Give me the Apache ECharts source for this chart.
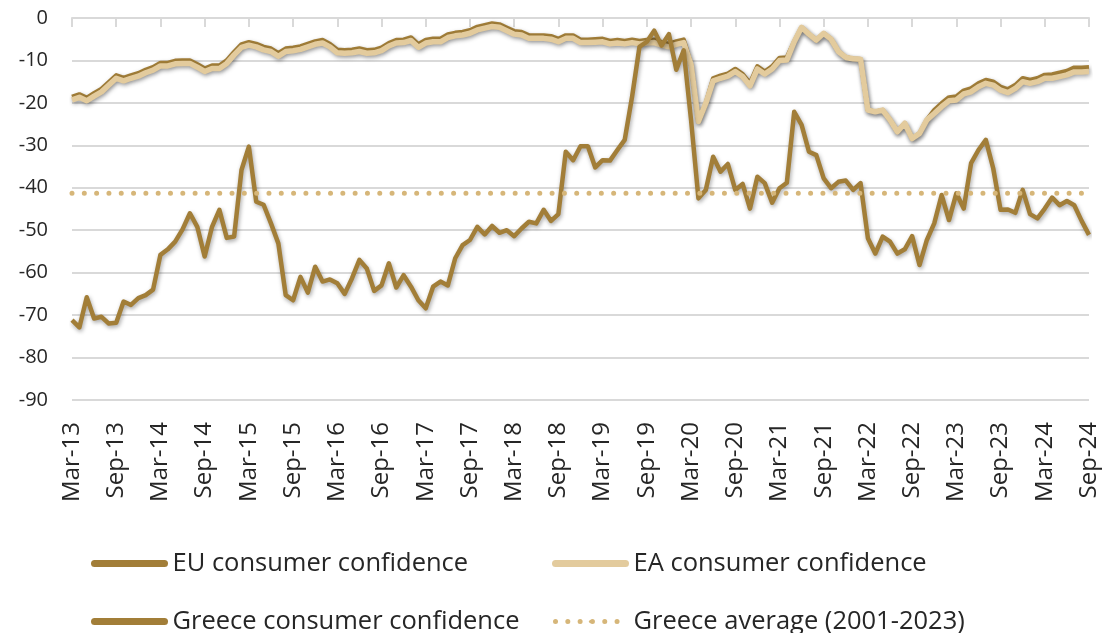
<!DOCTYPE html>
<html>
<head>
<meta charset="utf-8">
<script src="https://cdn.jsdelivr.net/npm/echarts@6/dist/echarts.min.js"></script>
<style>
  html, body { margin: 0; padding: 0; background: #fff; }
  #chart { width: 1105px; height: 633px; }
</style>
</head>
<body>
<div id="chart"></div>
<script>
// months Mar-13 .. Sep-24
const monthNames = ['Jan','Feb','Mar','Apr','May','Jun','Jul','Aug','Sep','Oct','Nov','Dec'];
const categories = [];
for (let y = 2013, m = 2; y < 2024 || (y === 2024 && m <= 8); m++) {
  if (m > 11) { m = 0; y++; }
  if (y === 2024 && m > 8) break;
  categories.push(monthNames[m] + '-' + String(y).slice(2));
}

const yTicks = [0, -10, -20, -30, -40, -50, -60, -70, -80, -90];

const euConfidence = [
  -18.6, -18.0, -18.8, -17.7, -16.7, -15.1, -13.5, -14.1, -13.5, -13.0,
  -12.2, -11.6, -10.6, -10.6, -10.1, -10.0, -10.0, -10.9, -11.9, -11.2,
  -11.2, -10.0, -8.0, -6.2, -5.7, -6.1, -6.8, -7.2, -8.3, -7.2,
  -7.0, -6.7, -6.1, -5.5, -5.2, -6.1, -7.5, -7.6, -7.5, -7.2,
  -7.6, -7.5, -7.0, -5.9, -5.2, -5.1, -4.6, -6.2, -5.2, -4.9,
  -4.9, -3.9, -3.5, -3.3, -2.9, -2.1, -1.7, -1.3, -1.5, -2.3,
  -3.1, -3.3, -4.1, -4.1, -4.1, -4.3, -4.9, -4.1, -4.1, -5.1,
  -5.1, -5.0, -4.9, -5.4, -5.2, -5.4, -5.1, -5.4, -5.2, -5.1,
  -5.7, -6.1, -5.5, -5.1, -11.0, -24.4, -20.1, -14.2, -13.6, -13.1,
  -12.0, -13.2, -15.4, -11.4, -12.6, -11.4, -9.4, -9.3, -5.6, -2.2,
  -3.8, -5.2, -3.6, -5.0, -7.9, -9.3, -9.6, -9.7, -21.7, -22.1,
  -21.7, -24.0, -26.8, -24.8, -28.4, -27.2, -24.0, -21.7, -20.1, -18.7,
  -18.5, -17.1, -16.6, -15.4, -14.6, -15.0, -16.2, -16.8, -15.8, -14.2,
  -14.6, -14.2, -13.4, -13.3, -12.9, -12.5, -11.7, -11.7, -11.6
];

const eaConfidence = [
  -19.3, -18.7, -19.5, -18.4, -17.4, -15.8, -14.2, -14.8, -14.2, -13.7,
  -12.9, -12.3, -11.3, -11.3, -10.8, -10.7, -10.7, -11.6, -12.6, -11.9,
  -11.9, -10.7, -8.7, -6.9, -6.4, -6.8, -7.5, -7.9, -9.0, -7.9,
  -7.7, -7.4, -6.8, -6.2, -5.9, -6.8, -8.2, -8.3, -8.2, -7.9,
  -8.3, -8.2, -7.7, -6.6, -5.9, -5.8, -5.3, -6.9, -5.9, -5.6,
  -5.6, -4.6, -4.2, -4.0, -3.6, -2.8, -2.4, -2.0, -2.2, -3.0,
  -3.8, -4.0, -4.8, -4.8, -4.8, -5.0, -5.6, -4.8, -4.8, -5.8,
  -5.8, -5.7, -5.6, -6.1, -5.9, -6.1, -5.8, -6.1, -5.9, -5.8,
  -6.4, -6.8, -6.2, -5.8, -11.0, -24.4, -20.1, -14.8, -14.2, -13.7,
  -12.6, -13.8, -16.0, -12.0, -13.2, -12.0, -10.0, -9.9, -5.6, -2.2,
  -3.8, -5.2, -3.6, -5.0, -7.9, -9.3, -9.6, -9.7, -21.7, -22.1,
  -21.7, -24.0, -26.8, -24.8, -28.4, -27.2, -24.0, -22.5, -20.9, -19.5,
  -19.3, -17.9, -17.4, -16.2, -15.4, -15.8, -17.0, -17.6, -16.6, -15.0,
  -15.4, -15.0, -14.2, -14.2, -13.8, -13.4, -12.7, -12.7, -12.6
];

const greeceConfidence = [
  -71.2, -72.9, -65.8, -70.8, -70.4, -72.0, -71.8, -66.8, -67.6, -66.0,
  -65.3, -64.0, -55.8, -54.5, -52.7, -49.8, -46.0, -49.2, -56.2, -49.2,
  -45.2, -51.8, -51.5, -35.8, -30.3, -43.3, -44.0, -48.4, -53.1, -65.3,
  -66.5, -61.0, -64.7, -58.6, -62.1, -61.6, -62.5, -65.0, -61.3, -57.0,
  -59.0, -64.3, -63.0, -57.8, -63.5, -60.6, -63.3, -66.5, -68.4, -63.3,
  -62.1, -63.0, -56.6, -53.5, -52.3, -49.2, -51.0, -49.0, -50.6, -50.0,
  -51.4, -49.6, -48.0, -48.4, -45.2, -47.8, -46.2, -31.5, -33.5, -30.2,
  -30.2, -35.2, -33.5, -33.6, -31.1, -28.7, -18.5, -6.8, -5.6, -3.0,
  -6.5, -3.8, -12.2, -7.6, -24.0, -42.5, -40.5, -32.7, -36.2, -34.4,
  -40.5, -39.1, -44.9, -37.4, -38.9, -43.5, -40.1, -38.8, -22.1, -25.2,
  -31.5, -32.3, -37.8, -40.1, -38.6, -38.3, -40.5, -38.9, -51.9, -55.5,
  -51.5, -52.7, -55.5, -54.5, -51.4, -58.2, -52.3, -48.4, -41.7, -47.6,
  -41.3, -44.9, -34.2, -31.1, -28.7, -35.4, -45.2, -45.1, -45.9, -40.5,
  -46.2, -47.2, -44.9, -42.3, -44.1, -43.1, -44.1, -47.8, -51.1
];

const greeceAverage = -41.3;

const darkGold = '#a27e38';
const lightGold = '#e3cb9d';
const dotGold = '#d6b679';
const gridGray = '#d9d9d9';
const font = 'Open Sans';

const chart = echarts.init(document.getElementById('chart'));

const shadow = {
  shadowColor: 'rgba(0,0,0,0.35)',
  shadowBlur: 4,
  shadowOffsetX: 1,
  shadowOffsetY: 2
};

const noShadow = { shadowBlur: 0, shadowOffsetX: 0, shadowOffsetY: 0, shadowColor: 'rgba(0,0,0,0)' };
const legendText = { fontFamily: font, fontSize: 25.5, color: '#262626', lineHeight: 31, padding: [0, 0, 0, 3] };

const option = {
  animation: false,
  textStyle: { fontFamily: font },
  grid: { left: 72, right: 16, top: 18, bottom: 233 },
  legend: [
    {
      orient: 'vertical',
      left: 86,
      top: 543,
      height: 100,
      itemWidth: 70,
      itemHeight: 4,
      itemGap: 27,
      textStyle: legendText,
      data: [
        { name: 'EU consumer confidence', lineStyle: Object.assign({ width: 7, cap: 'round' }, noShadow) },
        { name: 'Greece consumer confidence', lineStyle: Object.assign({ width: 7, cap: 'round' }, noShadow) }
      ]
    },
    {
      orient: 'vertical',
      left: 547,
      top: 543,
      height: 100,
      itemWidth: 70,
      itemHeight: 4,
      itemGap: 27,
      textStyle: legendText,
      data: [
        { name: 'EA consumer confidence', lineStyle: Object.assign({ width: 7, cap: 'round' }, noShadow) },
        { name: 'Greece average (2001-2023)', lineStyle: Object.assign({ width: 5, cap: 'round', type: [0.01, 12.3] }, noShadow) }
      ]
    }
  ],
  xAxis: [
    {
      type: 'category',
      position: 'bottom',
      data: categories,
      boundaryGap: false,
      axisLine: { show: false },
      axisTick: { show: false },
      axisLabel: {
        interval: 5,
        rotate: 90,
        margin: 22,
        fontSize: 24,
        fontFamily: font,
        color: '#262626'
      }
    },
    {
      type: 'category',
      position: 'top',
      data: categories,
      boundaryGap: false,
      axisLine: { show: true, lineStyle: { color: gridGray, width: 2 } },
      axisTick: { show: true, inside: true, length: 9, interval: 5, lineStyle: { color: gridGray, width: 2 } },
      axisLabel: { show: false }
    }
  ],
  yAxis: {
    type: 'value',
    min: yTicks[yTicks.length - 1],
    max: yTicks[0],
    interval: 10,
    axisLine: { show: false },
    axisTick: { show: false },
    splitLine: { lineStyle: { color: gridGray, width: 2 } },
    axisLabel: {
      margin: 24,
      fontSize: 20,
      fontFamily: font,
      color: '#262626'
    }
  },
  series: [
    {
      name: 'EU consumer confidence',
      type: 'line',
      data: euConfidence,
      symbol: 'none',
      color: darkGold,
      lineStyle: Object.assign({ width: 4.5, color: darkGold, join: 'round' }, shadow)
    },
    {
      name: 'EA consumer confidence',
      type: 'line',
      data: eaConfidence,
      symbol: 'none',
      color: lightGold,
      lineStyle: Object.assign({ width: 5.5, color: lightGold, join: 'round' }, shadow)
    },
    {
      name: 'Greece consumer confidence',
      type: 'line',
      data: greeceConfidence,
      symbol: 'none',
      color: darkGold,
      lineStyle: Object.assign({ width: 4.5, color: darkGold, join: 'round' }, shadow)
    },
    {
      name: 'Greece average (2001-2023)',
      type: 'line',
      data: categories.map(() => greeceAverage),
      symbol: 'none',
      color: dotGold,
      lineStyle: { width: 5, color: dotGold, type: [0.01, 12.3], cap: 'round' }
    }
  ]
};

chart.setOption(option);
</script>
</body>
</html>
